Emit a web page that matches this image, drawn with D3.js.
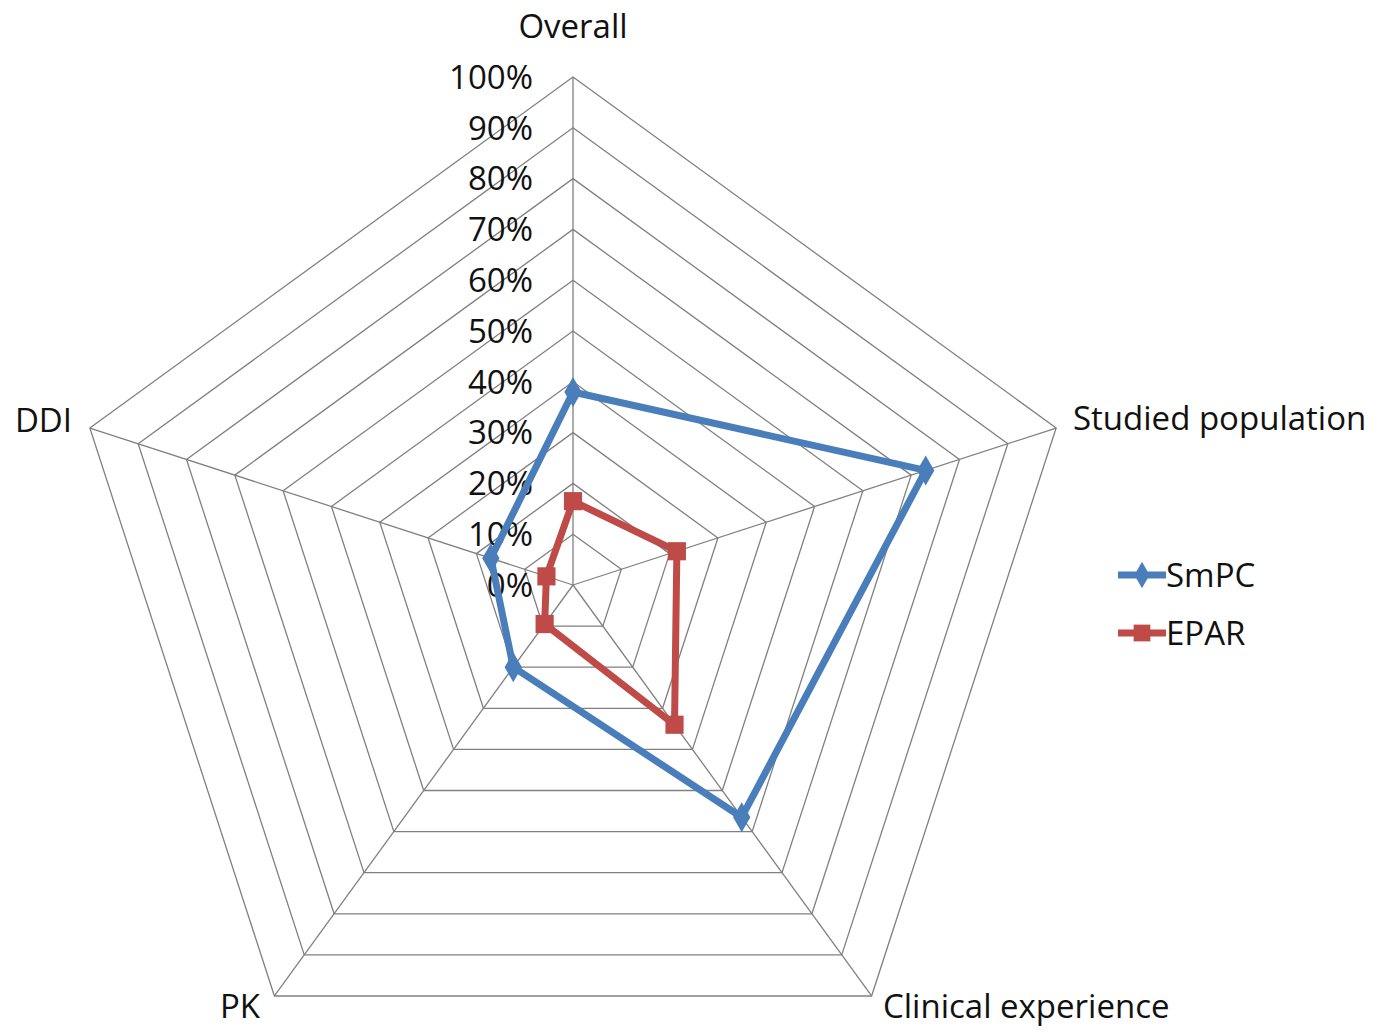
<!DOCTYPE html>
<html>
<head>
<meta charset="utf-8">
<script src="https://d3js.org/d3.v7.min.js"></script>
<style>
body { margin: 0; background: #fff; }
text { font-family: "Open Sans", "Noto Sans", sans-serif; fill: #111; }
</style>
</head>
<body>
<script>
var w = 1374;
var h = 1030;

var categories = ["Overall", "Studied population", "Clinical experience", "PK", "DDI"];
var smpc = [0.38, 0.73, 0.565, 0.20, 0.17];
var epar = [0.165, 0.215, 0.34, 0.095, 0.055];
var ticks = [0, 0.1, 0.2, 0.3, 0.4, 0.5, 0.6, 0.7, 0.8, 0.9, 1.0];
var seriesNames = ["SmPC", "EPAR"];
var colors = ["#4a7ebb", "#be4b48"];

var cx = 573, cy = 585, R = 508;

var svg = d3.select("body")
        .append("svg")
        .attr("width", w)
        .attr("height", h);

var r = d3.scaleLinear().domain([0, 1]).range([0, R]);
var angle = d3.scalePoint().domain(categories).range([0, 2 * Math.PI * 4 / 5]);

function pt(cat, v) {
    var a = angle(cat);
    return [cx + r(v) * Math.sin(a), cy - r(v) * Math.cos(a)];
}

// grid rings
var grid = svg.append("g");
ticks.slice(1).forEach(function(t) {
    var pts = categories.map(function(c) { return pt(c, t); });
    grid.append("path")
        .attr("d", d3.line()(pts) + "Z")
        .attr("fill", "none")
        .attr("stroke", "#808080")
        .attr("stroke-width", 1.3);
});
// spokes
categories.forEach(function(c) {
    var p = pt(c, 1);
    grid.append("line")
        .attr("x1", cx).attr("y1", cy)
        .attr("x2", p[0]).attr("y2", p[1])
        .attr("stroke", "#808080")
        .attr("stroke-width", 1.3);
});

// tick labels
svg.append("g").selectAll("text")
    .data(ticks)
    .enter()
    .append("text")
    .attr("x", cx - 40)
    .attr("y", function(d) { return cy - r(d); })
    .attr("dy", "0.36em")
    .attr("text-anchor", "end")
    .attr("font-size", 33)
    .text(function(d) { return Math.round(d * 100) + "%"; });

// category labels
var labelPos = {
    "Overall": [cx, 38, "middle"],
    "Studied population": [1073, 430, "start"],
    "Clinical experience": [883, 1018, "start"],
    "PK": [240, 1018, "middle"],
    "DDI": [72, 432, "end"]
};
svg.append("g").selectAll("text")
    .data(categories)
    .enter()
    .append("text")
    .attr("x", function(d) { return labelPos[d][0]; })
    .attr("y", function(d) { return labelPos[d][1]; })
    .attr("text-anchor", function(d) { return labelPos[d][2]; })
    .attr("font-size", 33)
    .text(function(d) { return d; });

// series
var data = [smpc, epar];
data.forEach(function(vals, i) {
    var pts = categories.map(function(c, j) { return pt(c, vals[j]); });
    svg.append("path")
        .attr("d", d3.line()(pts) + "Z")
        .attr("fill", "none")
        .attr("stroke", colors[i])
        .attr("stroke-width", 7)
        .attr("stroke-linejoin", "round");
    svg.append("g").selectAll("path")
        .data(pts)
        .enter()
        .append("path")
        .attr("transform", function(d) { return "translate(" + d[0] + "," + d[1] + ")"; })
        .attr("d", d3.symbol().type(i === 0 ? d3.symbolDiamond : d3.symbolSquare).size(i === 0 ? 260 : 330))
        .attr("fill", colors[i]);
});

// legend
var legend = svg.append("g");
seriesNames.forEach(function(name, i) {
    var y = 575 + i * 58;
    legend.append("line")
        .attr("x1", 1118).attr("x2", 1166)
        .attr("y1", y).attr("y2", y)
        .attr("stroke", colors[i])
        .attr("stroke-width", 7);
    legend.append("path")
        .attr("transform", "translate(1142," + y + ")")
        .attr("d", d3.symbol().type(i === 0 ? d3.symbolDiamond : d3.symbolSquare).size(i === 0 ? 200 : 280))
        .attr("fill", colors[i]);
    legend.append("text")
        .attr("x", 1166)
        .attr("y", y)
        .attr("dy", "0.36em")
        .attr("font-size", 33)
        .text(name);
});
</script>
</body>
</html>
